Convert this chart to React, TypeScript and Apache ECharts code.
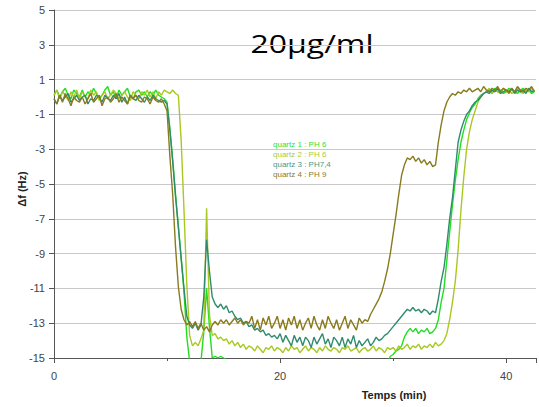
import React, { useEffect, useRef } from "react";
import * as echarts from "echarts";

// sampling grid (minutes), one reading every 0.25 min
const times: number[] = Array.from({ length: 171 }, (_, i) => i * 0.25);

const seriesNames = ["quartz 1 : PH 6", "quartz 2 : PH 6", "quartz 3 : PH7,4", "quartz 4 : PH 9"];
const lineColors = ["#22dd22", "#a8c822", "#2e8b6e", "#8a7a1e"];
const legendColors = ["#33dd33", "#aacc33", "#44998a", "#8a7a2a"];

// quartz 1 : PH 6 (bright green)
const q1: number[] = [
  0.1, 0.4, 0.0, 0.3, 0.5, 0.1, -0.1, 0.4, 0.2, 0.0,
  0.4, 0.0, 0.3, 0.1, 0.5, 0.2, -0.1, 0.1, 0.4, 0.6,
  0.1, 0.3, -0.1, 0.4, 0.1, 0.3, 0.5, 0.0, -0.1, 0.3,
  0.4, 0.1, 0.3, 0.0, 0.3, 0.1, 0.4, 0.1, 0.0, -0.1,
  -0.3, -1.8, -3.6, -5.6, -7.4, -9.2, -11.2, -13.8, -15.2, -15.3,
  -15.2, -15.3, -15.2, -13.5, -11.0, -13.2, -15.0, -14.9, -15.0, -14.9,
  -15.0, -15.1, -15.2, -15.3, -15.3, -15.3, -15.3, -15.3, -15.3, -15.3,
  -15.3, -15.3, -15.3, -15.3, -15.3, -15.3, -15.3, -15.3, -15.3, -15.3,
  -15.3, -15.3, -15.3, -15.3, -15.3, -15.3, -15.3, -15.3, -15.3, -15.3,
  -15.3, -15.3, -15.3, -15.3, -15.3, -15.3, -15.3, -15.3, -15.3, -15.3,
  -15.3, -15.3, -15.3, -15.3, -15.3, -15.3, -15.3, -15.3, -15.3, -15.3,
  -15.3, -15.3, -15.3, -15.3, -15.3, -15.3, -15.3, -15.3, -15.3, -14.9,
  -14.8, -14.6, -14.5, -14.3, -13.8, -13.5, -13.3, -13.5, -13.3, -13.6,
  -13.4, -13.5, -13.3, -13.6, -13.5, -13.3, -12.8, -11.8, -11.0, -9.4,
  -7.8, -6.2, -4.8, -3.6, -2.6, -1.9, -1.3, -0.9, -0.6, -0.4,
  -0.1, 0.1, 0.2, 0.3, 0.4, 0.2, 0.5, 0.3, 0.4, 0.2,
  0.3, 0.5, 0.4, 0.3, 0.2, 0.4, 0.5, 0.3, 0.4, 0.2,
  0.3,
];

// quartz 2 : PH 6 (yellow-green)
const q2: number[] = [
  0.1, 0.4, -0.1, 0.3, 0.1, -0.2, 0.3, 0.0, 0.4, -0.1,
  0.3, 0.0, -0.1, 0.4, 0.1, 0.3, -0.2, 0.1, 0.3, -0.1,
  0.1, 0.4, 0.2, -0.1, 0.1, 0.3, 0.0, -0.2, 0.3, 0.1,
  -0.1, 0.3, 0.1, 0.4, 0.0, 0.3, -0.1, 0.3, 0.1, 0.4,
  0.3, 0.2, 0.4, 0.2, 0.1, -2.5, -6.5, -10.8, -13.7, -14.3,
  -14.1, -14.3, -13.9, -13.4, -6.4, -12.5, -13.7, -13.6, -13.9, -13.8,
  -14.0, -13.9, -14.2, -14.0, -14.3, -14.1, -14.4, -14.2, -14.5, -14.3,
  -14.4, -14.6, -14.3, -14.5, -14.7, -14.4, -14.5, -14.3, -14.6, -14.4,
  -14.5, -14.7, -14.4, -14.6, -14.3, -14.5, -14.4, -14.7, -14.5, -14.3,
  -14.6, -14.4, -14.5, -14.7, -14.4, -14.6, -14.3, -14.5, -14.6, -14.4,
  -14.5, -14.7, -14.4, -14.5, -14.3, -14.6, -14.5, -14.4, -14.7, -14.5,
  -14.4, -14.6, -14.5, -14.3, -14.6, -14.4, -14.5, -14.7, -14.4, -14.5,
  -14.4, -14.6, -14.3, -14.5, -14.4, -14.2, -14.5, -14.3, -14.4, -14.2,
  -14.5, -14.3, -14.4, -14.2, -14.4, -14.1, -14.3, -14.2, -14.0, -13.6,
  -12.8, -11.8, -10.6, -8.8, -6.5, -4.6, -3.0, -2.0, -1.3, -0.8,
  -0.3, 0.0, 0.2, 0.3, 0.5, 0.2, 0.4, 0.3, 0.2, 0.5,
  0.3, 0.4, 0.2, 0.3, 0.5, 0.3, 0.2, 0.4, 0.3, 0.5,
  0.3,
];

// quartz 3 : PH7,4 (teal)
const q3: number[] = [
  -0.1, -0.4, 0.1, -0.2, 0.0, 0.2, -0.3, -0.1, 0.1, -0.2,
  0.0, 0.1, -0.4, -0.1, -0.2, 0.1, 0.0, -0.3, 0.1, -0.1,
  -0.2, 0.1, -0.1, 0.2, -0.3, 0.0, -0.4, 0.1, -0.1, -0.2,
  0.1, -0.1, -0.3, 0.0, -0.2, 0.1, -0.1, -0.2, -0.3, -0.2,
  -0.4, -1.9, -3.7, -5.7, -7.5, -9.3, -11.0, -12.6, -13.1, -13.3,
  -13.0, -13.4, -13.1, -11.5, -8.2, -10.0, -11.5, -11.9, -12.1, -11.9,
  -12.2, -12.0, -12.4, -12.3, -12.6, -12.8, -12.7, -13.0, -12.9, -13.2,
  -13.1, -13.4, -13.3, -13.5, -13.4, -13.7, -13.6, -13.8, -13.7, -13.9,
  -13.6, -14.1, -13.7, -14.0, -14.3, -13.7, -14.1, -13.8, -14.3, -13.8,
  -14.0, -14.4, -13.8, -14.2, -13.9, -13.6, -14.2, -13.9, -14.4, -13.8,
  -14.0, -14.3, -13.8, -14.4, -13.9, -14.2, -13.7, -14.4, -14.0, -14.3,
  -14.1, -13.9, -14.3, -14.1, -13.8, -14.0, -13.9, -13.7, -13.6, -13.4,
  -13.2, -13.0, -12.8, -12.6, -12.4, -12.2, -12.3, -12.1, -12.3, -12.2,
  -12.4, -12.2, -12.3, -12.5, -12.3, -12.4, -11.6, -10.6, -9.8, -8.5,
  -7.0, -5.8, -4.2, -2.6, -1.9, -1.4, -1.0, -0.8, -0.5, -0.3,
  -0.2, 0.0, 0.2, 0.3, 0.2, 0.4, 0.3, 0.5, 0.2, 0.3,
  0.4, 0.3, 0.5, 0.2, 0.4, 0.3, 0.4, 0.2, 0.5, 0.3,
  0.4,
];

// quartz 4 : PH 9 (olive)
const q4: number[] = [
  -0.1, -0.4, 0.1, -0.3, 0.2, -0.1, -0.5, 0.0, -0.2, -0.3,
  0.0, -0.4, -0.1, 0.2, -0.3, -0.1, 0.1, -0.5, -0.1, 0.0,
  -0.3, -0.1, 0.2, -0.3, 0.0, -0.2, -0.4, 0.1, -0.1, 0.1,
  -0.2, -0.3, 0.0, -0.1, -0.4, 0.0, -0.2, -0.3, -0.1, -0.4,
  -0.8, -3.4, -5.6, -8.6, -10.9, -12.2, -12.8, -13.1, -12.9, -13.2,
  -12.9, -13.3, -13.0, -13.4, -13.2, -13.5, -13.1, -12.9, -13.1, -12.8,
  -13.0, -12.8, -13.1, -12.9, -12.7, -13.0, -12.8, -13.1, -12.9, -13.0,
  -12.6, -13.3, -12.8, -13.4, -12.7, -13.1, -12.6, -13.3, -13.0, -12.6,
  -13.3, -12.8, -13.4, -12.7, -13.1, -12.6, -13.3, -12.8, -13.4, -13.0,
  -12.7, -13.3, -12.6, -13.1, -13.4, -12.8, -13.3, -12.6, -13.0, -13.3,
  -12.8, -13.4, -13.0, -12.6, -13.3, -12.8, -13.1, -13.4, -12.7, -13.0,
  -12.8, -12.9, -12.5, -12.2, -11.9, -11.6, -11.2, -10.6, -9.9, -9.0,
  -7.9, -6.8, -5.6, -4.5, -3.9, -3.5, -3.6, -3.4, -3.7, -3.5,
  -3.8, -3.6, -3.9, -3.7, -4.0, -3.9, -2.6, -1.6, -0.8, -0.3,
  0.0, 0.2, 0.1, 0.3, 0.2, 0.4, 0.3, 0.5, 0.3, 0.4,
  0.5, 0.3, 0.6, 0.4, 0.3, 0.5, 0.4, 0.6, 0.3, 0.5,
  0.4, 0.2, 0.5, 0.3, 0.6, 0.4, 0.3, 0.5, 0.4, 0.6,
  0.3,
];

const seriesValues = [q1, q2, q3, q4];

const xTickLabels = [0, 20, 40];
const yMin = -15;
const yMax = 5;
const xMax = 42.64;

const FONT = "'Liberation Sans', Arial, sans-serif";

export default function App() {
  const ref = useRef<HTMLDivElement>(null);

  useEffect(() => {
    if (!ref.current) return;
    const chart = echarts.init(ref.current, undefined, { renderer: "svg" });
    chart.setOption({
      animation: false,
      backgroundColor: "#ffffff",
      grid: { left: 54, right: 0, top: 10, bottom: 49, containLabel: false },
      xAxis: {
        type: "value",
        min: 0,
        max: xMax,
        interval: 20,
        axisLine: { show: true, onZero: false, lineStyle: { color: "#555555", width: 1 } },
        axisTick: { show: true, length: 5, lineStyle: { color: "#555555" } },
        minorTick: { show: true, splitNumber: 2, length: 3, lineStyle: { color: "#555555" } },
        splitLine: { show: false },
        axisLabel: {
          color: "#444444",
          fontFamily: FONT,
          fontSize: 11,
          margin: 12,
          formatter: (v: number) => (xTickLabels.includes(v) ? String(v) : ""),
        },
      },
      yAxis: {
        type: "value",
        min: yMin,
        max: yMax,
        interval: 2,
        axisLine: { show: true, onZero: false, lineStyle: { color: "#555555", width: 1 } },
        axisTick: { show: true, length: 5, lineStyle: { color: "#555555" } },
        splitLine: { show: true, lineStyle: { color: "#c8c8c8", width: 1 } },
        axisLabel: { color: "#444444", fontFamily: FONT, fontSize: 11, margin: 9 },
      },
      graphic: [
        {
          type: "text",
          x: 312,
          y: 43,
          scaleX: 1.23,
          style: {
            text: "20µg/ml",
            fill: "#000000",
            font: "500 26px 'Open Sans', sans-serif",
            textAlign: "center",
            textVerticalAlign: "middle",
          },
        },
        {
          type: "text",
          x: 22,
          y: 189,
          rotation: Math.PI / 2,
          style: {
            text: "Δf (Hz)",
            fill: "#222222",
            font: `bold 11px ${FONT}`,
            textAlign: "center",
            textVerticalAlign: "middle",
          },
        },
        {
          type: "text",
          x: 394,
          y: 395,
          style: {
            text: "Temps (min)",
            fill: "#222222",
            font: `bold 11px ${FONT}`,
            textAlign: "center",
            textVerticalAlign: "middle",
          },
        },
        ...seriesNames.map((name, k) => ({
          type: "text",
          x: 273,
          y: 144 + k * 10,
          style: {
            text: name,
            fill: legendColors[k],
            font: `8px ${FONT}`,
            textAlign: "left",
            textVerticalAlign: "middle",
          },
        })),
      ],
      series: seriesNames.map((name, k) => ({
        name,
        type: "line",
        showSymbol: false,
        symbol: "none",
        clip: true,
        lineStyle: { color: lineColors[k], width: 1.4 },
        itemStyle: { color: lineColors[k] },
        data: times.map((t, i) => [t, seriesValues[k][i]]),
      })),
    });
    return () => chart.dispose();
  }, []);

  return (
    <div
      ref={ref}
      style={{ position: "absolute", left: 0, top: 0, width: 539, height: 407 }}
    />
  );
}
